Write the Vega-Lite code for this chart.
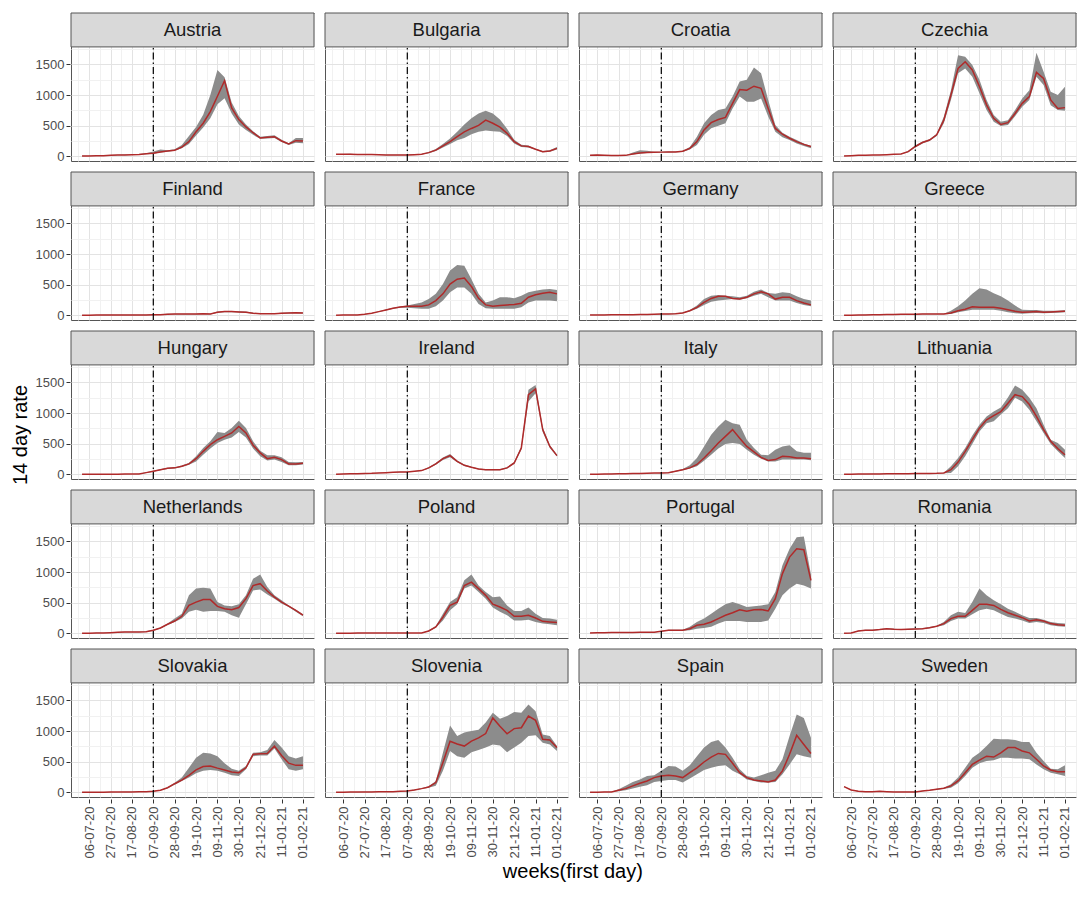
{
"$schema": "https://vega.github.io/schema/vega-lite/v6.json",
"background": "white",
"padding": {"left": 11, "top": 12, "right": 5, "bottom": 5},
"title": {"text": "weeks(first day)", "orient": "bottom", "anchor": "middle", "fontSize": 20, "fontWeight": "normal", "font": "Liberation Sans", "color": "#000000", "offset": 4, "dx": 26},
"config": {
  "font": "Liberation Sans",
  "view": {"stroke": "#555555", "strokeWidth": 1},
  "axis": {"domain": false, "labelFont": "Liberation Sans", "labelFontSize": 13, "labelColor": "#4d4d4d", "tickSize": 4, "tickWidth": 1, "titleFontWeight": "normal", "tickCount": 40},
  "header": {"labels": false, "labelExpr": "''", "labelFontSize": 0, "labelPadding": 0, "title": null}
},
"data": {"values": [
{"c":"Austria","w":"2020-06-29","m":5,"l":2,"h":8},{"c":"Austria","w":"2020-07-06","m":6,"l":3,"h":9},{"c":"Austria","w":"2020-07-13","m":8,"l":5,"h":11},{"c":"Austria","w":"2020-07-20","m":10,"l":7,"h":14},{"c":"Austria","w":"2020-07-27","m":15,"l":10,"h":20},{"c":"Austria","w":"2020-08-03","m":20,"l":15,"h":25},{"c":"Austria","w":"2020-08-10","m":22,"l":17,"h":28},{"c":"Austria","w":"2020-08-17","m":25,"l":20,"h":31},{"c":"Austria","w":"2020-08-24","m":30,"l":25,"h":36},{"c":"Austria","w":"2020-08-31","m":40,"l":33,"h":48},{"c":"Austria","w":"2020-09-07","m":50,"l":40,"h":80},{"c":"Austria","w":"2020-09-14","m":70,"l":60,"h":110},{"c":"Austria","w":"2020-09-21","m":87,"l":75,"h":100},{"c":"Austria","w":"2020-09-28","m":100,"l":90,"h":115},{"c":"Austria","w":"2020-10-05","m":150,"l":130,"h":185},{"c":"Austria","w":"2020-10-12","m":240,"l":200,"h":330},{"c":"Austria","w":"2020-10-19","m":400,"l":340,"h":480},{"c":"Austria","w":"2020-10-26","m":540,"l":470,"h":680},{"c":"Austria","w":"2020-11-02","m":730,"l":620,"h":1000},{"c":"Austria","w":"2020-11-09","m":980,"l":850,"h":1410},{"c":"Austria","w":"2020-11-16","m":1235,"l":950,"h":1290},{"c":"Austria","w":"2020-11-23","m":790,"l":700,"h":880},{"c":"Austria","w":"2020-11-30","m":600,"l":520,"h":660},{"c":"Austria","w":"2020-12-07","m":480,"l":430,"h":520},{"c":"Austria","w":"2020-12-14","m":385,"l":350,"h":410},{"c":"Austria","w":"2020-12-21","m":300,"l":285,"h":320},{"c":"Austria","w":"2020-12-28","m":310,"l":290,"h":330},{"c":"Austria","w":"2021-01-04","m":320,"l":300,"h":345},{"c":"Austria","w":"2021-01-11","m":250,"l":235,"h":270},{"c":"Austria","w":"2021-01-18","m":200,"l":185,"h":215},{"c":"Austria","w":"2021-01-25","m":255,"l":220,"h":300},{"c":"Austria","w":"2021-02-01","m":250,"l":215,"h":300},
{"c":"Bulgaria","w":"2020-06-29","m":33,"l":28,"h":38},{"c":"Bulgaria","w":"2020-07-06","m":33,"l":28,"h":38},{"c":"Bulgaria","w":"2020-07-13","m":35,"l":30,"h":40},{"c":"Bulgaria","w":"2020-07-20","m":30,"l":25,"h":35},{"c":"Bulgaria","w":"2020-07-27","m":30,"l":25,"h":35},{"c":"Bulgaria","w":"2020-08-03","m":28,"l":23,"h":33},{"c":"Bulgaria","w":"2020-08-10","m":25,"l":20,"h":30},{"c":"Bulgaria","w":"2020-08-17","m":22,"l":18,"h":27},{"c":"Bulgaria","w":"2020-08-24","m":22,"l":18,"h":27},{"c":"Bulgaria","w":"2020-08-31","m":22,"l":18,"h":27},{"c":"Bulgaria","w":"2020-09-07","m":22,"l":18,"h":27},{"c":"Bulgaria","w":"2020-09-14","m":27,"l":22,"h":32},{"c":"Bulgaria","w":"2020-09-21","m":33,"l":28,"h":38},{"c":"Bulgaria","w":"2020-09-28","m":60,"l":50,"h":70},{"c":"Bulgaria","w":"2020-10-05","m":100,"l":85,"h":120},{"c":"Bulgaria","w":"2020-10-12","m":170,"l":145,"h":200},{"c":"Bulgaria","w":"2020-10-19","m":240,"l":200,"h":290},{"c":"Bulgaria","w":"2020-10-26","m":320,"l":260,"h":400},{"c":"Bulgaria","w":"2020-11-02","m":400,"l":300,"h":520},{"c":"Bulgaria","w":"2020-11-09","m":455,"l":360,"h":620},{"c":"Bulgaria","w":"2020-11-16","m":505,"l":400,"h":700},{"c":"Bulgaria","w":"2020-11-23","m":590,"l":420,"h":745},{"c":"Bulgaria","w":"2020-11-30","m":540,"l":410,"h":700},{"c":"Bulgaria","w":"2020-12-07","m":475,"l":400,"h":600},{"c":"Bulgaria","w":"2020-12-14","m":375,"l":330,"h":450},{"c":"Bulgaria","w":"2020-12-21","m":240,"l":210,"h":270},{"c":"Bulgaria","w":"2020-12-28","m":170,"l":150,"h":190},{"c":"Bulgaria","w":"2021-01-04","m":160,"l":145,"h":175},{"c":"Bulgaria","w":"2021-01-11","m":115,"l":105,"h":125},{"c":"Bulgaria","w":"2021-01-18","m":75,"l":65,"h":85},{"c":"Bulgaria","w":"2021-01-25","m":87,"l":75,"h":100},{"c":"Bulgaria","w":"2021-02-01","m":130,"l":110,"h":150},
{"c":"Croatia","w":"2020-06-29","m":16,"l":12,"h":20},{"c":"Croatia","w":"2020-07-06","m":20,"l":16,"h":24},{"c":"Croatia","w":"2020-07-13","m":18,"l":14,"h":22},{"c":"Croatia","w":"2020-07-20","m":12,"l":9,"h":15},{"c":"Croatia","w":"2020-07-27","m":12,"l":9,"h":15},{"c":"Croatia","w":"2020-08-03","m":15,"l":12,"h":18},{"c":"Croatia","w":"2020-08-10","m":38,"l":30,"h":60},{"c":"Croatia","w":"2020-08-17","m":55,"l":45,"h":100},{"c":"Croatia","w":"2020-08-24","m":60,"l":52,"h":90},{"c":"Croatia","w":"2020-08-31","m":65,"l":58,"h":75},{"c":"Croatia","w":"2020-09-07","m":68,"l":60,"h":76},{"c":"Croatia","w":"2020-09-14","m":70,"l":62,"h":78},{"c":"Croatia","w":"2020-09-21","m":72,"l":64,"h":80},{"c":"Croatia","w":"2020-09-28","m":82,"l":72,"h":92},{"c":"Croatia","w":"2020-10-05","m":130,"l":110,"h":150},{"c":"Croatia","w":"2020-10-12","m":240,"l":185,"h":320},{"c":"Croatia","w":"2020-10-19","m":430,"l":350,"h":540},{"c":"Croatia","w":"2020-10-26","m":550,"l":460,"h":675},{"c":"Croatia","w":"2020-11-02","m":600,"l":500,"h":755},{"c":"Croatia","w":"2020-11-09","m":635,"l":540,"h":780},{"c":"Croatia","w":"2020-11-16","m":865,"l":780,"h":975},{"c":"Croatia","w":"2020-11-23","m":1090,"l":975,"h":1220},{"c":"Croatia","w":"2020-11-30","m":1080,"l":890,"h":1250},{"c":"Croatia","w":"2020-12-07","m":1145,"l":890,"h":1450},{"c":"Croatia","w":"2020-12-14","m":1110,"l":945,"h":1355},{"c":"Croatia","w":"2020-12-21","m":780,"l":650,"h":920},{"c":"Croatia","w":"2020-12-28","m":455,"l":400,"h":510},{"c":"Croatia","w":"2021-01-04","m":360,"l":310,"h":385},{"c":"Croatia","w":"2021-01-11","m":295,"l":265,"h":320},{"c":"Croatia","w":"2021-01-18","m":240,"l":210,"h":265},{"c":"Croatia","w":"2021-01-25","m":195,"l":170,"h":210},{"c":"Croatia","w":"2021-02-01","m":160,"l":130,"h":170},
{"c":"Czechia","w":"2020-06-29","m":5,"l":3,"h":7},{"c":"Czechia","w":"2020-07-06","m":10,"l":7,"h":13},{"c":"Czechia","w":"2020-07-13","m":15,"l":12,"h":18},{"c":"Czechia","w":"2020-07-20","m":18,"l":15,"h":21},{"c":"Czechia","w":"2020-07-27","m":20,"l":17,"h":23},{"c":"Czechia","w":"2020-08-03","m":22,"l":19,"h":25},{"c":"Czechia","w":"2020-08-10","m":27,"l":23,"h":31},{"c":"Czechia","w":"2020-08-17","m":33,"l":29,"h":37},{"c":"Czechia","w":"2020-08-24","m":38,"l":33,"h":43},{"c":"Czechia","w":"2020-08-31","m":75,"l":65,"h":85},{"c":"Czechia","w":"2020-09-07","m":160,"l":145,"h":175},{"c":"Czechia","w":"2020-09-14","m":225,"l":210,"h":240},{"c":"Czechia","w":"2020-09-21","m":265,"l":250,"h":280},{"c":"Czechia","w":"2020-09-28","m":350,"l":330,"h":370},{"c":"Czechia","w":"2020-10-05","m":590,"l":540,"h":645},{"c":"Czechia","w":"2020-10-12","m":1000,"l":920,"h":1080},{"c":"Czechia","w":"2020-10-19","m":1435,"l":1355,"h":1650},{"c":"Czechia","w":"2020-10-26","m":1545,"l":1435,"h":1625},{"c":"Czechia","w":"2020-11-02","m":1410,"l":1300,"h":1490},{"c":"Czechia","w":"2020-11-09","m":1140,"l":1030,"h":1250},{"c":"Czechia","w":"2020-11-16","m":840,"l":755,"h":920},{"c":"Czechia","w":"2020-11-23","m":620,"l":565,"h":675},{"c":"Czechia","w":"2020-11-30","m":520,"l":495,"h":565},{"c":"Czechia","w":"2020-12-07","m":550,"l":510,"h":590},{"c":"Czechia","w":"2020-12-14","m":700,"l":655,"h":755},{"c":"Czechia","w":"2020-12-21","m":865,"l":810,"h":945},{"c":"Czechia","w":"2020-12-28","m":975,"l":920,"h":1080},{"c":"Czechia","w":"2021-01-04","m":1370,"l":1300,"h":1690},{"c":"Czechia","w":"2021-01-11","m":1270,"l":1165,"h":1380},{"c":"Czechia","w":"2021-01-18","m":920,"l":835,"h":1055},{"c":"Czechia","w":"2021-01-25","m":780,"l":755,"h":1000},{"c":"Czechia","w":"2021-02-01","m":795,"l":745,"h":1135},
{"c":"Finland","w":"2020-06-29","m":0,"l":0,"h":3},{"c":"Finland","w":"2020-07-06","m":2,"l":0,"h":5},{"c":"Finland","w":"2020-07-13","m":3,"l":0,"h":6},{"c":"Finland","w":"2020-07-20","m":4,"l":0,"h":7},{"c":"Finland","w":"2020-07-27","m":5,"l":0,"h":8},{"c":"Finland","w":"2020-08-03","m":5,"l":0,"h":8},{"c":"Finland","w":"2020-08-10","m":5,"l":0,"h":8},{"c":"Finland","w":"2020-08-17","m":5,"l":0,"h":8},{"c":"Finland","w":"2020-08-24","m":6,"l":1,"h":10},{"c":"Finland","w":"2020-08-31","m":6,"l":1,"h":10},{"c":"Finland","w":"2020-09-07","m":7,"l":2,"h":12},{"c":"Finland","w":"2020-09-14","m":10,"l":5,"h":15},{"c":"Finland","w":"2020-09-21","m":18,"l":12,"h":24},{"c":"Finland","w":"2020-09-28","m":20,"l":14,"h":26},{"c":"Finland","w":"2020-10-05","m":20,"l":14,"h":26},{"c":"Finland","w":"2020-10-12","m":20,"l":14,"h":26},{"c":"Finland","w":"2020-10-19","m":20,"l":14,"h":26},{"c":"Finland","w":"2020-10-26","m":25,"l":18,"h":32},{"c":"Finland","w":"2020-11-02","m":20,"l":14,"h":26},{"c":"Finland","w":"2020-11-09","m":50,"l":40,"h":62},{"c":"Finland","w":"2020-11-16","m":60,"l":48,"h":72},{"c":"Finland","w":"2020-11-23","m":60,"l":48,"h":72},{"c":"Finland","w":"2020-11-30","m":55,"l":44,"h":66},{"c":"Finland","w":"2020-12-07","m":50,"l":40,"h":60},{"c":"Finland","w":"2020-12-14","m":33,"l":26,"h":40},{"c":"Finland","w":"2020-12-21","m":27,"l":21,"h":33},{"c":"Finland","w":"2020-12-28","m":27,"l":21,"h":33},{"c":"Finland","w":"2021-01-04","m":27,"l":21,"h":33},{"c":"Finland","w":"2021-01-11","m":33,"l":26,"h":40},{"c":"Finland","w":"2021-01-18","m":38,"l":30,"h":46},{"c":"Finland","w":"2021-01-25","m":43,"l":35,"h":51},{"c":"Finland","w":"2021-02-01","m":38,"l":30,"h":46},
{"c":"France","w":"2020-06-29","m":0,"l":0,"h":2},{"c":"France","w":"2020-07-06","m":5,"l":3,"h":7},{"c":"France","w":"2020-07-13","m":5,"l":3,"h":7},{"c":"France","w":"2020-07-20","m":5,"l":3,"h":7},{"c":"France","w":"2020-07-27","m":16,"l":12,"h":20},{"c":"France","w":"2020-08-03","m":33,"l":28,"h":38},{"c":"France","w":"2020-08-10","m":60,"l":52,"h":68},{"c":"France","w":"2020-08-17","m":87,"l":78,"h":96},{"c":"France","w":"2020-08-24","m":115,"l":105,"h":125},{"c":"France","w":"2020-08-31","m":135,"l":125,"h":145},{"c":"France","w":"2020-09-07","m":147,"l":125,"h":158},{"c":"France","w":"2020-09-14","m":147,"l":115,"h":185},{"c":"France","w":"2020-09-21","m":147,"l":105,"h":210},{"c":"France","w":"2020-09-28","m":170,"l":105,"h":265},{"c":"France","w":"2020-10-05","m":240,"l":147,"h":350},{"c":"France","w":"2020-10-12","m":350,"l":240,"h":510},{"c":"France","w":"2020-10-19","m":510,"l":375,"h":730},{"c":"France","w":"2020-10-26","m":590,"l":455,"h":820},{"c":"France","w":"2020-11-02","m":610,"l":455,"h":810},{"c":"France","w":"2020-11-09","m":470,"l":350,"h":590},{"c":"France","w":"2020-11-16","m":277,"l":185,"h":350},{"c":"France","w":"2020-11-23","m":170,"l":115,"h":210},{"c":"France","w":"2020-11-30","m":147,"l":105,"h":240},{"c":"France","w":"2020-12-07","m":158,"l":105,"h":295},{"c":"France","w":"2020-12-14","m":170,"l":105,"h":295},{"c":"France","w":"2020-12-21","m":175,"l":105,"h":277},{"c":"France","w":"2020-12-28","m":195,"l":130,"h":320},{"c":"France","w":"2021-01-04","m":295,"l":210,"h":375},{"c":"France","w":"2021-01-11","m":335,"l":240,"h":400},{"c":"France","w":"2021-01-18","m":360,"l":240,"h":420},{"c":"France","w":"2021-01-25","m":375,"l":240,"h":430},{"c":"France","w":"2021-02-01","m":350,"l":230,"h":415},
{"c":"Germany","w":"2020-06-29","m":5,"l":3,"h":7},{"c":"Germany","w":"2020-07-06","m":5,"l":3,"h":7},{"c":"Germany","w":"2020-07-13","m":6,"l":4,"h":8},{"c":"Germany","w":"2020-07-20","m":7,"l":5,"h":9},{"c":"Germany","w":"2020-07-27","m":8,"l":6,"h":10},{"c":"Germany","w":"2020-08-03","m":9,"l":7,"h":11},{"c":"Germany","w":"2020-08-10","m":10,"l":8,"h":12},{"c":"Germany","w":"2020-08-17","m":12,"l":10,"h":14},{"c":"Germany","w":"2020-08-24","m":14,"l":12,"h":16},{"c":"Germany","w":"2020-08-31","m":17,"l":14,"h":20},{"c":"Germany","w":"2020-09-07","m":22,"l":18,"h":26},{"c":"Germany","w":"2020-09-14","m":22,"l":18,"h":26},{"c":"Germany","w":"2020-09-21","m":27,"l":22,"h":32},{"c":"Germany","w":"2020-09-28","m":38,"l":32,"h":44},{"c":"Germany","w":"2020-10-05","m":75,"l":65,"h":85},{"c":"Germany","w":"2020-10-12","m":130,"l":105,"h":158},{"c":"Germany","w":"2020-10-19","m":210,"l":170,"h":265},{"c":"Germany","w":"2020-10-26","m":275,"l":220,"h":320},{"c":"Germany","w":"2020-11-02","m":310,"l":240,"h":330},{"c":"Germany","w":"2020-11-09","m":310,"l":255,"h":320},{"c":"Germany","w":"2020-11-16","m":275,"l":265,"h":310},{"c":"Germany","w":"2020-11-23","m":265,"l":255,"h":295},{"c":"Germany","w":"2020-11-30","m":295,"l":277,"h":320},{"c":"Germany","w":"2020-12-07","m":350,"l":320,"h":385},{"c":"Germany","w":"2020-12-14","m":385,"l":350,"h":420},{"c":"Germany","w":"2020-12-21","m":350,"l":295,"h":365},{"c":"Germany","w":"2020-12-28","m":265,"l":240,"h":350},{"c":"Germany","w":"2021-01-04","m":295,"l":240,"h":375},{"c":"Germany","w":"2021-01-11","m":295,"l":240,"h":365},{"c":"Germany","w":"2021-01-18","m":240,"l":200,"h":310},{"c":"Germany","w":"2021-01-25","m":200,"l":170,"h":265},{"c":"Germany","w":"2021-02-01","m":170,"l":147,"h":240},
{"c":"Greece","w":"2020-06-29","m":0,"l":0,"h":2},{"c":"Greece","w":"2020-07-06","m":2,"l":0,"h":4},{"c":"Greece","w":"2020-07-13","m":4,"l":2,"h":6},{"c":"Greece","w":"2020-07-20","m":5,"l":3,"h":7},{"c":"Greece","w":"2020-07-27","m":7,"l":5,"h":9},{"c":"Greece","w":"2020-08-03","m":10,"l":7,"h":13},{"c":"Greece","w":"2020-08-10","m":12,"l":9,"h":15},{"c":"Greece","w":"2020-08-17","m":14,"l":11,"h":17},{"c":"Greece","w":"2020-08-24","m":15,"l":12,"h":18},{"c":"Greece","w":"2020-08-31","m":15,"l":12,"h":18},{"c":"Greece","w":"2020-09-07","m":16,"l":13,"h":19},{"c":"Greece","w":"2020-09-14","m":22,"l":18,"h":26},{"c":"Greece","w":"2020-09-21","m":22,"l":18,"h":26},{"c":"Greece","w":"2020-09-28","m":22,"l":18,"h":26},{"c":"Greece","w":"2020-10-05","m":22,"l":18,"h":26},{"c":"Greece","w":"2020-10-12","m":38,"l":22,"h":75},{"c":"Greece","w":"2020-10-19","m":75,"l":50,"h":147},{"c":"Greece","w":"2020-10-26","m":100,"l":70,"h":240},{"c":"Greece","w":"2020-11-02","m":140,"l":90,"h":350},{"c":"Greece","w":"2020-11-09","m":130,"l":90,"h":440},{"c":"Greece","w":"2020-11-16","m":130,"l":90,"h":420},{"c":"Greece","w":"2020-11-23","m":130,"l":90,"h":360},{"c":"Greece","w":"2020-11-30","m":115,"l":75,"h":310},{"c":"Greece","w":"2020-12-07","m":90,"l":50,"h":240},{"c":"Greece","w":"2020-12-14","m":65,"l":33,"h":158},{"c":"Greece","w":"2020-12-21","m":50,"l":27,"h":90},{"c":"Greece","w":"2020-12-28","m":55,"l":33,"h":87},{"c":"Greece","w":"2021-01-04","m":60,"l":38,"h":87},{"c":"Greece","w":"2021-01-11","m":50,"l":33,"h":75},{"c":"Greece","w":"2021-01-18","m":55,"l":38,"h":75},{"c":"Greece","w":"2021-01-25","m":60,"l":43,"h":75},{"c":"Greece","w":"2021-02-01","m":65,"l":48,"h":87},
{"c":"Hungary","w":"2020-06-29","m":0,"l":0,"h":2},{"c":"Hungary","w":"2020-07-06","m":0,"l":0,"h":2},{"c":"Hungary","w":"2020-07-13","m":0,"l":0,"h":2},{"c":"Hungary","w":"2020-07-20","m":1,"l":0,"h":3},{"c":"Hungary","w":"2020-07-27","m":2,"l":1,"h":4},{"c":"Hungary","w":"2020-08-03","m":2,"l":1,"h":4},{"c":"Hungary","w":"2020-08-10","m":3,"l":2,"h":5},{"c":"Hungary","w":"2020-08-17","m":4,"l":3,"h":6},{"c":"Hungary","w":"2020-08-24","m":5,"l":4,"h":7},{"c":"Hungary","w":"2020-08-31","m":27,"l":22,"h":32},{"c":"Hungary","w":"2020-09-07","m":50,"l":43,"h":57},{"c":"Hungary","w":"2020-09-14","m":75,"l":66,"h":84},{"c":"Hungary","w":"2020-09-21","m":98,"l":88,"h":108},{"c":"Hungary","w":"2020-09-28","m":105,"l":95,"h":115},{"c":"Hungary","w":"2020-10-05","m":130,"l":118,"h":142},{"c":"Hungary","w":"2020-10-12","m":170,"l":155,"h":185},{"c":"Hungary","w":"2020-10-19","m":255,"l":210,"h":295},{"c":"Hungary","w":"2020-10-26","m":375,"l":320,"h":430},{"c":"Hungary","w":"2020-11-02","m":485,"l":420,"h":540},{"c":"Hungary","w":"2020-11-09","m":565,"l":510,"h":690},{"c":"Hungary","w":"2020-11-16","m":620,"l":565,"h":675},{"c":"Hungary","w":"2020-11-23","m":675,"l":600,"h":755},{"c":"Hungary","w":"2020-11-30","m":780,"l":690,"h":875},{"c":"Hungary","w":"2020-12-07","m":675,"l":600,"h":755},{"c":"Hungary","w":"2020-12-14","m":475,"l":420,"h":540},{"c":"Hungary","w":"2020-12-21","m":350,"l":295,"h":385},{"c":"Hungary","w":"2020-12-28","m":255,"l":225,"h":310},{"c":"Hungary","w":"2021-01-04","m":277,"l":240,"h":310},{"c":"Hungary","w":"2021-01-11","m":240,"l":200,"h":277},{"c":"Hungary","w":"2021-01-18","m":170,"l":147,"h":200},{"c":"Hungary","w":"2021-01-25","m":170,"l":147,"h":195},{"c":"Hungary","w":"2021-02-01","m":180,"l":158,"h":200},
{"c":"Ireland","w":"2020-06-29","m":0,"l":0,"h":2},{"c":"Ireland","w":"2020-07-06","m":5,"l":3,"h":7},{"c":"Ireland","w":"2020-07-13","m":8,"l":6,"h":10},{"c":"Ireland","w":"2020-07-20","m":10,"l":8,"h":12},{"c":"Ireland","w":"2020-07-27","m":13,"l":11,"h":15},{"c":"Ireland","w":"2020-08-03","m":15,"l":13,"h":17},{"c":"Ireland","w":"2020-08-10","m":22,"l":19,"h":25},{"c":"Ireland","w":"2020-08-17","m":27,"l":24,"h":30},{"c":"Ireland","w":"2020-08-24","m":33,"l":29,"h":37},{"c":"Ireland","w":"2020-08-31","m":38,"l":34,"h":42},{"c":"Ireland","w":"2020-09-07","m":38,"l":34,"h":42},{"c":"Ireland","w":"2020-09-14","m":50,"l":45,"h":55},{"c":"Ireland","w":"2020-09-21","m":60,"l":54,"h":66},{"c":"Ireland","w":"2020-09-28","m":105,"l":95,"h":115},{"c":"Ireland","w":"2020-10-05","m":170,"l":155,"h":185},{"c":"Ireland","w":"2020-10-12","m":255,"l":235,"h":275},{"c":"Ireland","w":"2020-10-19","m":305,"l":280,"h":330},{"c":"Ireland","w":"2020-10-26","m":210,"l":195,"h":225},{"c":"Ireland","w":"2020-11-02","m":147,"l":135,"h":160},{"c":"Ireland","w":"2020-11-09","m":115,"l":105,"h":125},{"c":"Ireland","w":"2020-11-16","m":87,"l":78,"h":96},{"c":"Ireland","w":"2020-11-23","m":75,"l":67,"h":83},{"c":"Ireland","w":"2020-11-30","m":75,"l":67,"h":83},{"c":"Ireland","w":"2020-12-07","m":75,"l":67,"h":83},{"c":"Ireland","w":"2020-12-14","m":105,"l":95,"h":115},{"c":"Ireland","w":"2020-12-21","m":185,"l":170,"h":200},{"c":"Ireland","w":"2020-12-28","m":430,"l":400,"h":460},{"c":"Ireland","w":"2021-01-04","m":1300,"l":1190,"h":1380},{"c":"Ireland","w":"2021-01-11","m":1395,"l":1325,"h":1460},{"c":"Ireland","w":"2021-01-18","m":730,"l":690,"h":770},{"c":"Ireland","w":"2021-01-25","m":455,"l":430,"h":480},{"c":"Ireland","w":"2021-02-01","m":305,"l":290,"h":320},
{"c":"Italy","w":"2020-06-29","m":0,"l":0,"h":2},{"c":"Italy","w":"2020-07-06","m":2,"l":0,"h":4},{"c":"Italy","w":"2020-07-13","m":4,"l":2,"h":6},{"c":"Italy","w":"2020-07-20","m":6,"l":4,"h":8},{"c":"Italy","w":"2020-07-27","m":8,"l":6,"h":10},{"c":"Italy","w":"2020-08-03","m":10,"l":8,"h":12},{"c":"Italy","w":"2020-08-10","m":12,"l":10,"h":14},{"c":"Italy","w":"2020-08-17","m":14,"l":12,"h":16},{"c":"Italy","w":"2020-08-24","m":16,"l":14,"h":18},{"c":"Italy","w":"2020-08-31","m":19,"l":16,"h":22},{"c":"Italy","w":"2020-09-07","m":22,"l":18,"h":26},{"c":"Italy","w":"2020-09-14","m":27,"l":22,"h":32},{"c":"Italy","w":"2020-09-21","m":50,"l":42,"h":58},{"c":"Italy","w":"2020-09-28","m":75,"l":65,"h":85},{"c":"Italy","w":"2020-10-05","m":105,"l":95,"h":147},{"c":"Italy","w":"2020-10-12","m":160,"l":130,"h":265},{"c":"Italy","w":"2020-10-19","m":265,"l":220,"h":455},{"c":"Italy","w":"2020-10-26","m":385,"l":320,"h":645},{"c":"Italy","w":"2020-11-02","m":510,"l":420,"h":780},{"c":"Italy","w":"2020-11-09","m":620,"l":495,"h":890},{"c":"Italy","w":"2020-11-16","m":730,"l":510,"h":835},{"c":"Italy","w":"2020-11-23","m":590,"l":495,"h":810},{"c":"Italy","w":"2020-11-30","m":455,"l":400,"h":565},{"c":"Italy","w":"2020-12-07","m":365,"l":320,"h":430},{"c":"Italy","w":"2020-12-14","m":277,"l":255,"h":320},{"c":"Italy","w":"2020-12-21","m":225,"l":210,"h":310},{"c":"Italy","w":"2020-12-28","m":240,"l":210,"h":400},{"c":"Italy","w":"2021-01-04","m":295,"l":240,"h":455},{"c":"Italy","w":"2021-01-11","m":285,"l":240,"h":475},{"c":"Italy","w":"2021-01-18","m":265,"l":240,"h":375},{"c":"Italy","w":"2021-01-25","m":265,"l":240,"h":350},{"c":"Italy","w":"2021-02-01","m":255,"l":230,"h":350},
{"c":"Lithuania","w":"2020-06-29","m":0,"l":0,"h":2},{"c":"Lithuania","w":"2020-07-06","m":2,"l":0,"h":4},{"c":"Lithuania","w":"2020-07-13","m":3,"l":1,"h":5},{"c":"Lithuania","w":"2020-07-20","m":4,"l":2,"h":6},{"c":"Lithuania","w":"2020-07-27","m":5,"l":3,"h":7},{"c":"Lithuania","w":"2020-08-03","m":6,"l":4,"h":8},{"c":"Lithuania","w":"2020-08-10","m":7,"l":5,"h":9},{"c":"Lithuania","w":"2020-08-17","m":8,"l":6,"h":10},{"c":"Lithuania","w":"2020-08-24","m":9,"l":7,"h":11},{"c":"Lithuania","w":"2020-08-31","m":10,"l":8,"h":12},{"c":"Lithuania","w":"2020-09-07","m":11,"l":9,"h":13},{"c":"Lithuania","w":"2020-09-14","m":12,"l":10,"h":14},{"c":"Lithuania","w":"2020-09-21","m":14,"l":12,"h":16},{"c":"Lithuania","w":"2020-09-28","m":16,"l":14,"h":18},{"c":"Lithuania","w":"2020-10-05","m":22,"l":18,"h":26},{"c":"Lithuania","w":"2020-10-12","m":75,"l":22,"h":130},{"c":"Lithuania","w":"2020-10-19","m":200,"l":130,"h":265},{"c":"Lithuania","w":"2020-10-26","m":375,"l":295,"h":430},{"c":"Lithuania","w":"2020-11-02","m":565,"l":495,"h":635},{"c":"Lithuania","w":"2020-11-09","m":755,"l":700,"h":810},{"c":"Lithuania","w":"2020-11-16","m":890,"l":835,"h":945},{"c":"Lithuania","w":"2020-11-23","m":960,"l":865,"h":1025},{"c":"Lithuania","w":"2020-11-30","m":1025,"l":975,"h":1090},{"c":"Lithuania","w":"2020-12-07","m":1160,"l":1080,"h":1255},{"c":"Lithuania","w":"2020-12-14","m":1300,"l":1250,"h":1450},{"c":"Lithuania","w":"2020-12-21","m":1270,"l":1190,"h":1380},{"c":"Lithuania","w":"2020-12-28","m":1140,"l":1055,"h":1250},{"c":"Lithuania","w":"2021-01-04","m":945,"l":865,"h":1080},{"c":"Lithuania","w":"2021-01-11","m":730,"l":675,"h":810},{"c":"Lithuania","w":"2021-01-18","m":540,"l":495,"h":565},{"c":"Lithuania","w":"2021-01-25","m":420,"l":375,"h":510},{"c":"Lithuania","w":"2021-02-01","m":320,"l":265,"h":400},
{"c":"Netherlands","w":"2020-06-29","m":0,"l":0,"h":2},{"c":"Netherlands","w":"2020-07-06","m":0,"l":0,"h":2},{"c":"Netherlands","w":"2020-07-13","m":5,"l":3,"h":7},{"c":"Netherlands","w":"2020-07-20","m":5,"l":3,"h":7},{"c":"Netherlands","w":"2020-07-27","m":10,"l":8,"h":12},{"c":"Netherlands","w":"2020-08-03","m":16,"l":13,"h":19},{"c":"Netherlands","w":"2020-08-10","m":22,"l":18,"h":26},{"c":"Netherlands","w":"2020-08-17","m":22,"l":18,"h":26},{"c":"Netherlands","w":"2020-08-24","m":22,"l":18,"h":26},{"c":"Netherlands","w":"2020-08-31","m":27,"l":22,"h":32},{"c":"Netherlands","w":"2020-09-07","m":50,"l":43,"h":57},{"c":"Netherlands","w":"2020-09-14","m":87,"l":78,"h":96},{"c":"Netherlands","w":"2020-09-21","m":147,"l":135,"h":160},{"c":"Netherlands","w":"2020-09-28","m":200,"l":185,"h":240},{"c":"Netherlands","w":"2020-10-05","m":277,"l":240,"h":320},{"c":"Netherlands","w":"2020-10-12","m":455,"l":350,"h":620},{"c":"Netherlands","w":"2020-10-19","m":510,"l":385,"h":730},{"c":"Netherlands","w":"2020-10-26","m":550,"l":350,"h":745},{"c":"Netherlands","w":"2020-11-02","m":550,"l":365,"h":730},{"c":"Netherlands","w":"2020-11-09","m":440,"l":365,"h":510},{"c":"Netherlands","w":"2020-11-16","m":400,"l":350,"h":455},{"c":"Netherlands","w":"2020-11-23","m":385,"l":295,"h":440},{"c":"Netherlands","w":"2020-11-30","m":420,"l":255,"h":475},{"c":"Netherlands","w":"2020-12-07","m":565,"l":475,"h":620},{"c":"Netherlands","w":"2020-12-14","m":780,"l":700,"h":890},{"c":"Netherlands","w":"2020-12-21","m":810,"l":715,"h":960},{"c":"Netherlands","w":"2020-12-28","m":690,"l":635,"h":755},{"c":"Netherlands","w":"2021-01-04","m":590,"l":565,"h":620},{"c":"Netherlands","w":"2021-01-11","m":510,"l":485,"h":540},{"c":"Netherlands","w":"2021-01-18","m":445,"l":430,"h":455},{"c":"Netherlands","w":"2021-01-25","m":375,"l":350,"h":385},{"c":"Netherlands","w":"2021-02-01","m":295,"l":277,"h":310},
{"c":"Poland","w":"2020-06-29","m":0,"l":0,"h":2},{"c":"Poland","w":"2020-07-06","m":1,"l":0,"h":2},{"c":"Poland","w":"2020-07-13","m":2,"l":1,"h":3},{"c":"Poland","w":"2020-07-20","m":3,"l":2,"h":4},{"c":"Poland","w":"2020-07-27","m":4,"l":3,"h":5},{"c":"Poland","w":"2020-08-03","m":4,"l":3,"h":5},{"c":"Poland","w":"2020-08-10","m":5,"l":4,"h":6},{"c":"Poland","w":"2020-08-17","m":5,"l":4,"h":6},{"c":"Poland","w":"2020-08-24","m":5,"l":4,"h":6},{"c":"Poland","w":"2020-08-31","m":5,"l":4,"h":6},{"c":"Poland","w":"2020-09-07","m":5,"l":4,"h":6},{"c":"Poland","w":"2020-09-14","m":5,"l":4,"h":6},{"c":"Poland","w":"2020-09-21","m":5,"l":4,"h":6},{"c":"Poland","w":"2020-09-28","m":38,"l":30,"h":46},{"c":"Poland","w":"2020-10-05","m":105,"l":90,"h":120},{"c":"Poland","w":"2020-10-12","m":265,"l":210,"h":320},{"c":"Poland","w":"2020-10-19","m":455,"l":375,"h":510},{"c":"Poland","w":"2020-10-26","m":510,"l":475,"h":590},{"c":"Poland","w":"2020-11-02","m":780,"l":730,"h":865},{"c":"Poland","w":"2020-11-09","m":835,"l":780,"h":960},{"c":"Poland","w":"2020-11-16","m":730,"l":675,"h":780},{"c":"Poland","w":"2020-11-23","m":620,"l":565,"h":675},{"c":"Poland","w":"2020-11-30","m":475,"l":420,"h":590},{"c":"Poland","w":"2020-12-07","m":430,"l":350,"h":600},{"c":"Poland","w":"2020-12-14","m":375,"l":295,"h":455},{"c":"Poland","w":"2020-12-21","m":277,"l":210,"h":365},{"c":"Poland","w":"2020-12-28","m":277,"l":210,"h":365},{"c":"Poland","w":"2021-01-04","m":295,"l":220,"h":420},{"c":"Poland","w":"2021-01-11","m":250,"l":185,"h":320},{"c":"Poland","w":"2021-01-18","m":195,"l":160,"h":250},{"c":"Poland","w":"2021-01-25","m":185,"l":147,"h":240},{"c":"Poland","w":"2021-02-01","m":175,"l":130,"h":220},
{"c":"Portugal","w":"2020-06-29","m":5,"l":3,"h":7},{"c":"Portugal","w":"2020-07-06","m":8,"l":6,"h":10},{"c":"Portugal","w":"2020-07-13","m":10,"l":8,"h":12},{"c":"Portugal","w":"2020-07-20","m":12,"l":10,"h":14},{"c":"Portugal","w":"2020-07-27","m":13,"l":11,"h":15},{"c":"Portugal","w":"2020-08-03","m":14,"l":12,"h":16},{"c":"Portugal","w":"2020-08-10","m":14,"l":12,"h":16},{"c":"Portugal","w":"2020-08-17","m":15,"l":13,"h":17},{"c":"Portugal","w":"2020-08-24","m":15,"l":13,"h":17},{"c":"Portugal","w":"2020-08-31","m":16,"l":14,"h":18},{"c":"Portugal","w":"2020-09-07","m":33,"l":28,"h":38},{"c":"Portugal","w":"2020-09-14","m":50,"l":43,"h":57},{"c":"Portugal","w":"2020-09-21","m":50,"l":43,"h":57},{"c":"Portugal","w":"2020-09-28","m":50,"l":43,"h":57},{"c":"Portugal","w":"2020-10-05","m":75,"l":50,"h":105},{"c":"Portugal","w":"2020-10-12","m":130,"l":75,"h":185},{"c":"Portugal","w":"2020-10-19","m":147,"l":87,"h":240},{"c":"Portugal","w":"2020-10-26","m":185,"l":105,"h":320},{"c":"Portugal","w":"2020-11-02","m":240,"l":158,"h":400},{"c":"Portugal","w":"2020-11-09","m":295,"l":200,"h":475},{"c":"Portugal","w":"2020-11-16","m":335,"l":200,"h":510},{"c":"Portugal","w":"2020-11-23","m":385,"l":200,"h":475},{"c":"Portugal","w":"2020-11-30","m":360,"l":185,"h":430},{"c":"Portugal","w":"2020-12-07","m":385,"l":185,"h":440},{"c":"Portugal","w":"2020-12-14","m":390,"l":185,"h":455},{"c":"Portugal","w":"2020-12-21","m":365,"l":210,"h":475},{"c":"Portugal","w":"2020-12-28","m":565,"l":400,"h":675},{"c":"Portugal","w":"2021-01-04","m":975,"l":620,"h":1110},{"c":"Portugal","w":"2021-01-11","m":1245,"l":730,"h":1380},{"c":"Portugal","w":"2021-01-18","m":1380,"l":810,"h":1570},{"c":"Portugal","w":"2021-01-25","m":1365,"l":780,"h":1580},{"c":"Portugal","w":"2021-02-01","m":865,"l":730,"h":960},
{"c":"Romania","w":"2020-06-29","m":0,"l":0,"h":2},{"c":"Romania","w":"2020-07-06","m":5,"l":3,"h":8},{"c":"Romania","w":"2020-07-13","m":38,"l":32,"h":44},{"c":"Romania","w":"2020-07-20","m":50,"l":43,"h":57},{"c":"Romania","w":"2020-07-27","m":50,"l":43,"h":57},{"c":"Romania","w":"2020-08-03","m":60,"l":52,"h":68},{"c":"Romania","w":"2020-08-10","m":75,"l":66,"h":84},{"c":"Romania","w":"2020-08-17","m":65,"l":57,"h":73},{"c":"Romania","w":"2020-08-24","m":60,"l":52,"h":68},{"c":"Romania","w":"2020-08-31","m":65,"l":57,"h":73},{"c":"Romania","w":"2020-09-07","m":70,"l":62,"h":78},{"c":"Romania","w":"2020-09-14","m":75,"l":66,"h":84},{"c":"Romania","w":"2020-09-21","m":92,"l":82,"h":102},{"c":"Romania","w":"2020-09-28","m":115,"l":105,"h":125},{"c":"Romania","w":"2020-10-05","m":158,"l":130,"h":185},{"c":"Romania","w":"2020-10-12","m":240,"l":200,"h":295},{"c":"Romania","w":"2020-10-19","m":277,"l":240,"h":350},{"c":"Romania","w":"2020-10-26","m":277,"l":240,"h":330},{"c":"Romania","w":"2020-11-02","m":375,"l":310,"h":510},{"c":"Romania","w":"2020-11-09","m":475,"l":375,"h":730},{"c":"Romania","w":"2020-11-16","m":475,"l":400,"h":620},{"c":"Romania","w":"2020-11-23","m":455,"l":375,"h":540},{"c":"Romania","w":"2020-11-30","m":390,"l":320,"h":475},{"c":"Romania","w":"2020-12-07","m":335,"l":265,"h":400},{"c":"Romania","w":"2020-12-14","m":295,"l":240,"h":350},{"c":"Romania","w":"2020-12-21","m":255,"l":210,"h":295},{"c":"Romania","w":"2020-12-28","m":200,"l":170,"h":250},{"c":"Romania","w":"2021-01-04","m":220,"l":185,"h":250},{"c":"Romania","w":"2021-01-11","m":200,"l":170,"h":220},{"c":"Romania","w":"2021-01-18","m":158,"l":130,"h":185},{"c":"Romania","w":"2021-01-25","m":140,"l":115,"h":170},{"c":"Romania","w":"2021-02-01","m":130,"l":105,"h":158},
{"c":"Slovakia","w":"2020-06-29","m":0,"l":0,"h":2},{"c":"Slovakia","w":"2020-07-06","m":0,"l":0,"h":2},{"c":"Slovakia","w":"2020-07-13","m":1,"l":0,"h":3},{"c":"Slovakia","w":"2020-07-20","m":2,"l":1,"h":4},{"c":"Slovakia","w":"2020-07-27","m":3,"l":2,"h":5},{"c":"Slovakia","w":"2020-08-03","m":4,"l":3,"h":6},{"c":"Slovakia","w":"2020-08-10","m":5,"l":4,"h":7},{"c":"Slovakia","w":"2020-08-17","m":6,"l":5,"h":8},{"c":"Slovakia","w":"2020-08-24","m":8,"l":6,"h":10},{"c":"Slovakia","w":"2020-08-31","m":10,"l":8,"h":12},{"c":"Slovakia","w":"2020-09-07","m":16,"l":13,"h":19},{"c":"Slovakia","w":"2020-09-14","m":33,"l":28,"h":38},{"c":"Slovakia","w":"2020-09-21","m":75,"l":66,"h":84},{"c":"Slovakia","w":"2020-09-28","m":140,"l":125,"h":155},{"c":"Slovakia","w":"2020-10-05","m":200,"l":185,"h":240},{"c":"Slovakia","w":"2020-10-12","m":277,"l":240,"h":400},{"c":"Slovakia","w":"2020-10-19","m":365,"l":310,"h":565},{"c":"Slovakia","w":"2020-10-26","m":420,"l":350,"h":645},{"c":"Slovakia","w":"2020-11-02","m":430,"l":365,"h":635},{"c":"Slovakia","w":"2020-11-09","m":395,"l":350,"h":590},{"c":"Slovakia","w":"2020-11-16","m":365,"l":320,"h":475},{"c":"Slovakia","w":"2020-11-23","m":330,"l":277,"h":385},{"c":"Slovakia","w":"2020-11-30","m":320,"l":265,"h":350},{"c":"Slovakia","w":"2020-12-07","m":400,"l":375,"h":430},{"c":"Slovakia","w":"2020-12-14","m":620,"l":590,"h":645},{"c":"Slovakia","w":"2020-12-21","m":630,"l":600,"h":655},{"c":"Slovakia","w":"2020-12-28","m":635,"l":600,"h":690},{"c":"Slovakia","w":"2021-01-04","m":755,"l":715,"h":855},{"c":"Slovakia","w":"2021-01-11","m":600,"l":540,"h":730},{"c":"Slovakia","w":"2021-01-18","m":475,"l":375,"h":590},{"c":"Slovakia","w":"2021-01-25","m":440,"l":350,"h":550},{"c":"Slovakia","w":"2021-02-01","m":440,"l":375,"h":590},
{"c":"Slovenia","w":"2020-06-29","m":0,"l":0,"h":2},{"c":"Slovenia","w":"2020-07-06","m":2,"l":0,"h":4},{"c":"Slovenia","w":"2020-07-13","m":3,"l":1,"h":5},{"c":"Slovenia","w":"2020-07-20","m":4,"l":2,"h":6},{"c":"Slovenia","w":"2020-07-27","m":5,"l":3,"h":7},{"c":"Slovenia","w":"2020-08-03","m":6,"l":4,"h":8},{"c":"Slovenia","w":"2020-08-10","m":7,"l":5,"h":9},{"c":"Slovenia","w":"2020-08-17","m":8,"l":6,"h":10},{"c":"Slovenia","w":"2020-08-24","m":10,"l":8,"h":12},{"c":"Slovenia","w":"2020-08-31","m":16,"l":13,"h":19},{"c":"Slovenia","w":"2020-09-07","m":22,"l":18,"h":26},{"c":"Slovenia","w":"2020-09-14","m":38,"l":32,"h":44},{"c":"Slovenia","w":"2020-09-21","m":60,"l":52,"h":68},{"c":"Slovenia","w":"2020-09-28","m":87,"l":75,"h":99},{"c":"Slovenia","w":"2020-10-05","m":158,"l":105,"h":185},{"c":"Slovenia","w":"2020-10-12","m":485,"l":350,"h":645},{"c":"Slovenia","w":"2020-10-19","m":835,"l":675,"h":1090},{"c":"Slovenia","w":"2020-10-26","m":790,"l":590,"h":920},{"c":"Slovenia","w":"2020-11-02","m":755,"l":565,"h":975},{"c":"Slovenia","w":"2020-11-09","m":835,"l":655,"h":1000},{"c":"Slovenia","w":"2020-11-16","m":890,"l":690,"h":1020},{"c":"Slovenia","w":"2020-11-23","m":960,"l":730,"h":1140},{"c":"Slovenia","w":"2020-11-30","m":1215,"l":780,"h":1300},{"c":"Slovenia","w":"2020-12-07","m":1080,"l":765,"h":1200},{"c":"Slovenia","w":"2020-12-14","m":955,"l":655,"h":1245},{"c":"Slovenia","w":"2020-12-21","m":1040,"l":730,"h":1310},{"c":"Slovenia","w":"2020-12-28","m":1055,"l":810,"h":1300},{"c":"Slovenia","w":"2021-01-04","m":1245,"l":920,"h":1435},{"c":"Slovenia","w":"2021-01-11","m":1175,"l":930,"h":1325},{"c":"Slovenia","w":"2021-01-18","m":865,"l":810,"h":945},{"c":"Slovenia","w":"2021-01-25","m":855,"l":780,"h":920},{"c":"Slovenia","w":"2021-02-01","m":730,"l":675,"h":755},
{"c":"Spain","w":"2020-06-29","m":0,"l":0,"h":2},{"c":"Spain","w":"2020-07-06","m":0,"l":0,"h":2},{"c":"Spain","w":"2020-07-13","m":5,"l":3,"h":7},{"c":"Spain","w":"2020-07-20","m":5,"l":3,"h":7},{"c":"Spain","w":"2020-07-27","m":33,"l":16,"h":50},{"c":"Spain","w":"2020-08-03","m":60,"l":33,"h":105},{"c":"Spain","w":"2020-08-10","m":105,"l":60,"h":170},{"c":"Spain","w":"2020-08-17","m":147,"l":92,"h":210},{"c":"Spain","w":"2020-08-24","m":185,"l":115,"h":265},{"c":"Spain","w":"2020-08-31","m":240,"l":170,"h":277},{"c":"Spain","w":"2020-09-07","m":265,"l":185,"h":350},{"c":"Spain","w":"2020-09-14","m":277,"l":200,"h":430},{"c":"Spain","w":"2020-09-21","m":265,"l":200,"h":420},{"c":"Spain","w":"2020-09-28","m":240,"l":158,"h":350},{"c":"Spain","w":"2020-10-05","m":320,"l":225,"h":440},{"c":"Spain","w":"2020-10-12","m":400,"l":295,"h":590},{"c":"Spain","w":"2020-10-19","m":495,"l":365,"h":730},{"c":"Spain","w":"2020-10-26","m":575,"l":400,"h":820},{"c":"Spain","w":"2020-11-02","m":635,"l":430,"h":855},{"c":"Spain","w":"2020-11-09","m":620,"l":440,"h":730},{"c":"Spain","w":"2020-11-16","m":475,"l":350,"h":565},{"c":"Spain","w":"2020-11-23","m":320,"l":295,"h":375},{"c":"Spain","w":"2020-11-30","m":240,"l":210,"h":265},{"c":"Spain","w":"2020-12-07","m":200,"l":185,"h":240},{"c":"Spain","w":"2020-12-14","m":185,"l":158,"h":277},{"c":"Spain","w":"2020-12-21","m":170,"l":158,"h":320},{"c":"Spain","w":"2020-12-28","m":200,"l":170,"h":350},{"c":"Spain","w":"2021-01-04","m":350,"l":295,"h":540},{"c":"Spain","w":"2021-01-11","m":620,"l":455,"h":920},{"c":"Spain","w":"2021-01-18","m":930,"l":620,"h":1270},{"c":"Spain","w":"2021-01-25","m":780,"l":590,"h":1215},{"c":"Spain","w":"2021-02-01","m":635,"l":565,"h":890},
{"c":"Sweden","w":"2020-06-29","m":92,"l":85,"h":99},{"c":"Sweden","w":"2020-07-06","m":38,"l":33,"h":43},{"c":"Sweden","w":"2020-07-13","m":16,"l":12,"h":20},{"c":"Sweden","w":"2020-07-20","m":10,"l":7,"h":13},{"c":"Sweden","w":"2020-07-27","m":10,"l":7,"h":13},{"c":"Sweden","w":"2020-08-03","m":16,"l":12,"h":20},{"c":"Sweden","w":"2020-08-10","m":10,"l":7,"h":13},{"c":"Sweden","w":"2020-08-17","m":5,"l":3,"h":7},{"c":"Sweden","w":"2020-08-24","m":5,"l":3,"h":7},{"c":"Sweden","w":"2020-08-31","m":5,"l":3,"h":7},{"c":"Sweden","w":"2020-09-07","m":5,"l":3,"h":7},{"c":"Sweden","w":"2020-09-14","m":22,"l":18,"h":26},{"c":"Sweden","w":"2020-09-21","m":33,"l":28,"h":38},{"c":"Sweden","w":"2020-09-28","m":50,"l":43,"h":57},{"c":"Sweden","w":"2020-10-05","m":65,"l":56,"h":74},{"c":"Sweden","w":"2020-10-12","m":105,"l":75,"h":130},{"c":"Sweden","w":"2020-10-19","m":185,"l":147,"h":240},{"c":"Sweden","w":"2020-10-26","m":320,"l":265,"h":400},{"c":"Sweden","w":"2020-11-02","m":455,"l":400,"h":565},{"c":"Sweden","w":"2020-11-09","m":525,"l":475,"h":645},{"c":"Sweden","w":"2020-11-16","m":590,"l":510,"h":755},{"c":"Sweden","w":"2020-11-23","m":575,"l":525,"h":875},{"c":"Sweden","w":"2020-11-30","m":645,"l":565,"h":865},{"c":"Sweden","w":"2020-12-07","m":730,"l":565,"h":865},{"c":"Sweden","w":"2020-12-14","m":730,"l":550,"h":855},{"c":"Sweden","w":"2020-12-21","m":675,"l":550,"h":820},{"c":"Sweden","w":"2020-12-28","m":645,"l":540,"h":820},{"c":"Sweden","w":"2021-01-04","m":540,"l":455,"h":645},{"c":"Sweden","w":"2021-01-11","m":430,"l":375,"h":510},{"c":"Sweden","w":"2021-01-18","m":365,"l":320,"h":385},{"c":"Sweden","w":"2021-01-25","m":335,"l":295,"h":375},{"c":"Sweden","w":"2021-02-01","m":335,"l":265,"h":440}
]},
"vconcat": [{
  "title": {"text": "14 day rate", "orient": "left", "anchor": "middle", "fontSize": 20, "fontWeight": "normal", "font": "Liberation Sans", "color": "#000000", "offset": 4},
  "spacing": 7,
  "vconcat": [
  {
    "transform": [{"filter": {"field": "c", "oneOf": ["Austria", "Bulgaria", "Croatia", "Czechia"]}}],
    "facet": {"column": {"field": "c", "type": "nominal", "title": null, "header": {"labels": false, "title": null}}},
    "spacing": 9,
    "spec": {"width": 243, "height": 148, "layer": [
      {"mark": {"type": "area", "color": "#8c8c8c"}, "encoding": {
        "x": {"field": "w", "type": "temporal", "scale": {"type": "utc", "domain": [1592451360000, 1613075040000], "nice": false},
          "axis": {"title": null, "labels": false, "ticks": false, "tickCount": 40, "values": [1593086400000,1593993600000,1594900800000,1595808000000,1596715200000,1597622400000,1598529600000,1599436800000,1600344000000,1601251200000,1602158400000,1603065600000,1603972800000,1604880000000,1605787200000,1606694400000,1607601600000,1608508800000,1609416000000,1610323200000,1611230400000,1612137600000,1613044800000],
            "gridColor": {"condition": {"test": "(datum.value - 1593993600000) % 1814400000 === 0", "value": "#e3e3e3"}, "value": "#f1f1f1"}}},
        "y": {"field": "l", "type": "quantitative", "scale": {"domain": [-77, 2341], "nice": false, "zero": false},
          "axis": {"title": null, "format": "d", "labelPadding": 2, "labelOverlap": false, "tickCount": 40, "values": [0,250,500,750,1000,1250,1500,1750],
            "labelExpr": "datum.value % 500 === 0 && datum.value <= 1500 ? datum.label : ''",
            "tickColor": {"condition": {"test": "datum.value % 500 === 0 && datum.value <= 1500", "value": "#333333"}, "value": "rgba(0,0,0,0)"},
            "gridColor": {"condition": {"test": "datum.value % 500 === 0", "value": "#e3e3e3"}, "value": "#f1f1f1"}}},
        "y2": {"field": "h"}}},
      {"mark": {"type": "line", "color": "#b02a2a", "strokeWidth": 1.5}, "encoding": {"x": {"field": "w", "type": "temporal"}, "y": {"field": "m", "type": "quantitative"}}},
      {"transform": [{"aggregate": [{"op": "count", "as": "n"}], "groupby": ["c"]}], "mark": {"type": "rect", "fill": "#d9d9d9", "stroke": "#555555", "strokeWidth": 1},
        "encoding": {"x": {"datum": 1592451360000, "type": "temporal"}, "x2": {"datum": 1613075040000}, "y": {"datum": 1787, "type": "quantitative"}, "y2": {"datum": 2341}}},
      {"transform": [{"aggregate": [{"op": "count", "as": "n"}], "groupby": ["c"]}], "mark": {"type": "text", "fontSize": 18.5, "color": "#1a1a1a", "font": "Liberation Sans", "baseline": "middle", "align": "center"},
        "encoding": {"x": {"datum": 1602763200000, "type": "temporal"}, "y": {"datum": 2064, "type": "quantitative"}, "text": {"field": "c"}}},
      {"transform": [{"aggregate": [{"op": "count", "as": "n"}], "groupby": ["c"]}], "mark": {"type": "rule", "color": "#000000", "strokeWidth": 1.2, "strokeDash": [7, 3, 1.5, 3]},
        "encoding": {"x": {"datum": 1599436800000, "type": "temporal"}, "y": {"datum": -77, "type": "quantitative"}, "y2": {"datum": 1787}}}
    ]}
  },
  {
    "transform": [{"filter": {"field": "c", "oneOf": ["Finland", "France", "Germany", "Greece"]}}],
    "facet": {"column": {"field": "c", "type": "nominal", "title": null, "header": {"labels": false, "title": null}}},
    "spacing": 9,
    "spec": {"width": 243, "height": 148, "layer": [
      {"mark": {"type": "area", "color": "#8c8c8c"}, "encoding": {
        "x": {"field": "w", "type": "temporal", "scale": {"type": "utc", "domain": [1592451360000, 1613075040000], "nice": false},
          "axis": {"title": null, "labels": false, "ticks": false, "tickCount": 40, "values": [1593086400000,1593993600000,1594900800000,1595808000000,1596715200000,1597622400000,1598529600000,1599436800000,1600344000000,1601251200000,1602158400000,1603065600000,1603972800000,1604880000000,1605787200000,1606694400000,1607601600000,1608508800000,1609416000000,1610323200000,1611230400000,1612137600000,1613044800000],
            "gridColor": {"condition": {"test": "(datum.value - 1593993600000) % 1814400000 === 0", "value": "#e3e3e3"}, "value": "#f1f1f1"}}},
        "y": {"field": "l", "type": "quantitative", "scale": {"domain": [-77, 2341], "nice": false, "zero": false},
          "axis": {"title": null, "format": "d", "labelPadding": 2, "labelOverlap": false, "tickCount": 40, "values": [0,250,500,750,1000,1250,1500,1750],
            "labelExpr": "datum.value % 500 === 0 && datum.value <= 1500 ? datum.label : ''",
            "tickColor": {"condition": {"test": "datum.value % 500 === 0 && datum.value <= 1500", "value": "#333333"}, "value": "rgba(0,0,0,0)"},
            "gridColor": {"condition": {"test": "datum.value % 500 === 0", "value": "#e3e3e3"}, "value": "#f1f1f1"}}},
        "y2": {"field": "h"}}},
      {"mark": {"type": "line", "color": "#b02a2a", "strokeWidth": 1.5}, "encoding": {"x": {"field": "w", "type": "temporal"}, "y": {"field": "m", "type": "quantitative"}}},
      {"transform": [{"aggregate": [{"op": "count", "as": "n"}], "groupby": ["c"]}], "mark": {"type": "rect", "fill": "#d9d9d9", "stroke": "#555555", "strokeWidth": 1},
        "encoding": {"x": {"datum": 1592451360000, "type": "temporal"}, "x2": {"datum": 1613075040000}, "y": {"datum": 1787, "type": "quantitative"}, "y2": {"datum": 2341}}},
      {"transform": [{"aggregate": [{"op": "count", "as": "n"}], "groupby": ["c"]}], "mark": {"type": "text", "fontSize": 18.5, "color": "#1a1a1a", "font": "Liberation Sans", "baseline": "middle", "align": "center"},
        "encoding": {"x": {"datum": 1602763200000, "type": "temporal"}, "y": {"datum": 2064, "type": "quantitative"}, "text": {"field": "c"}}},
      {"transform": [{"aggregate": [{"op": "count", "as": "n"}], "groupby": ["c"]}], "mark": {"type": "rule", "color": "#000000", "strokeWidth": 1.2, "strokeDash": [7, 3, 1.5, 3]},
        "encoding": {"x": {"datum": 1599436800000, "type": "temporal"}, "y": {"datum": -77, "type": "quantitative"}, "y2": {"datum": 1787}}}
    ]}
  },
  {
    "transform": [{"filter": {"field": "c", "oneOf": ["Hungary", "Ireland", "Italy", "Lithuania"]}}],
    "facet": {"column": {"field": "c", "type": "nominal", "title": null, "header": {"labels": false, "title": null}}},
    "spacing": 9,
    "spec": {"width": 243, "height": 148, "layer": [
      {"mark": {"type": "area", "color": "#8c8c8c"}, "encoding": {
        "x": {"field": "w", "type": "temporal", "scale": {"type": "utc", "domain": [1592451360000, 1613075040000], "nice": false},
          "axis": {"title": null, "labels": false, "ticks": false, "tickCount": 40, "values": [1593086400000,1593993600000,1594900800000,1595808000000,1596715200000,1597622400000,1598529600000,1599436800000,1600344000000,1601251200000,1602158400000,1603065600000,1603972800000,1604880000000,1605787200000,1606694400000,1607601600000,1608508800000,1609416000000,1610323200000,1611230400000,1612137600000,1613044800000],
            "gridColor": {"condition": {"test": "(datum.value - 1593993600000) % 1814400000 === 0", "value": "#e3e3e3"}, "value": "#f1f1f1"}}},
        "y": {"field": "l", "type": "quantitative", "scale": {"domain": [-77, 2341], "nice": false, "zero": false},
          "axis": {"title": null, "format": "d", "labelPadding": 2, "labelOverlap": false, "tickCount": 40, "values": [0,250,500,750,1000,1250,1500,1750],
            "labelExpr": "datum.value % 500 === 0 && datum.value <= 1500 ? datum.label : ''",
            "tickColor": {"condition": {"test": "datum.value % 500 === 0 && datum.value <= 1500", "value": "#333333"}, "value": "rgba(0,0,0,0)"},
            "gridColor": {"condition": {"test": "datum.value % 500 === 0", "value": "#e3e3e3"}, "value": "#f1f1f1"}}},
        "y2": {"field": "h"}}},
      {"mark": {"type": "line", "color": "#b02a2a", "strokeWidth": 1.5}, "encoding": {"x": {"field": "w", "type": "temporal"}, "y": {"field": "m", "type": "quantitative"}}},
      {"transform": [{"aggregate": [{"op": "count", "as": "n"}], "groupby": ["c"]}], "mark": {"type": "rect", "fill": "#d9d9d9", "stroke": "#555555", "strokeWidth": 1},
        "encoding": {"x": {"datum": 1592451360000, "type": "temporal"}, "x2": {"datum": 1613075040000}, "y": {"datum": 1787, "type": "quantitative"}, "y2": {"datum": 2341}}},
      {"transform": [{"aggregate": [{"op": "count", "as": "n"}], "groupby": ["c"]}], "mark": {"type": "text", "fontSize": 18.5, "color": "#1a1a1a", "font": "Liberation Sans", "baseline": "middle", "align": "center"},
        "encoding": {"x": {"datum": 1602763200000, "type": "temporal"}, "y": {"datum": 2064, "type": "quantitative"}, "text": {"field": "c"}}},
      {"transform": [{"aggregate": [{"op": "count", "as": "n"}], "groupby": ["c"]}], "mark": {"type": "rule", "color": "#000000", "strokeWidth": 1.2, "strokeDash": [7, 3, 1.5, 3]},
        "encoding": {"x": {"datum": 1599436800000, "type": "temporal"}, "y": {"datum": -77, "type": "quantitative"}, "y2": {"datum": 1787}}}
    ]}
  },
  {
    "transform": [{"filter": {"field": "c", "oneOf": ["Netherlands", "Poland", "Portugal", "Romania"]}}],
    "facet": {"column": {"field": "c", "type": "nominal", "title": null, "header": {"labels": false, "title": null}}},
    "spacing": 9,
    "spec": {"width": 243, "height": 148, "layer": [
      {"mark": {"type": "area", "color": "#8c8c8c"}, "encoding": {
        "x": {"field": "w", "type": "temporal", "scale": {"type": "utc", "domain": [1592451360000, 1613075040000], "nice": false},
          "axis": {"title": null, "labels": false, "ticks": false, "tickCount": 40, "values": [1593086400000,1593993600000,1594900800000,1595808000000,1596715200000,1597622400000,1598529600000,1599436800000,1600344000000,1601251200000,1602158400000,1603065600000,1603972800000,1604880000000,1605787200000,1606694400000,1607601600000,1608508800000,1609416000000,1610323200000,1611230400000,1612137600000,1613044800000],
            "gridColor": {"condition": {"test": "(datum.value - 1593993600000) % 1814400000 === 0", "value": "#e3e3e3"}, "value": "#f1f1f1"}}},
        "y": {"field": "l", "type": "quantitative", "scale": {"domain": [-77, 2341], "nice": false, "zero": false},
          "axis": {"title": null, "format": "d", "labelPadding": 2, "labelOverlap": false, "tickCount": 40, "values": [0,250,500,750,1000,1250,1500,1750],
            "labelExpr": "datum.value % 500 === 0 && datum.value <= 1500 ? datum.label : ''",
            "tickColor": {"condition": {"test": "datum.value % 500 === 0 && datum.value <= 1500", "value": "#333333"}, "value": "rgba(0,0,0,0)"},
            "gridColor": {"condition": {"test": "datum.value % 500 === 0", "value": "#e3e3e3"}, "value": "#f1f1f1"}}},
        "y2": {"field": "h"}}},
      {"mark": {"type": "line", "color": "#b02a2a", "strokeWidth": 1.5}, "encoding": {"x": {"field": "w", "type": "temporal"}, "y": {"field": "m", "type": "quantitative"}}},
      {"transform": [{"aggregate": [{"op": "count", "as": "n"}], "groupby": ["c"]}], "mark": {"type": "rect", "fill": "#d9d9d9", "stroke": "#555555", "strokeWidth": 1},
        "encoding": {"x": {"datum": 1592451360000, "type": "temporal"}, "x2": {"datum": 1613075040000}, "y": {"datum": 1787, "type": "quantitative"}, "y2": {"datum": 2341}}},
      {"transform": [{"aggregate": [{"op": "count", "as": "n"}], "groupby": ["c"]}], "mark": {"type": "text", "fontSize": 18.5, "color": "#1a1a1a", "font": "Liberation Sans", "baseline": "middle", "align": "center"},
        "encoding": {"x": {"datum": 1602763200000, "type": "temporal"}, "y": {"datum": 2064, "type": "quantitative"}, "text": {"field": "c"}}},
      {"transform": [{"aggregate": [{"op": "count", "as": "n"}], "groupby": ["c"]}], "mark": {"type": "rule", "color": "#000000", "strokeWidth": 1.2, "strokeDash": [7, 3, 1.5, 3]},
        "encoding": {"x": {"datum": 1599436800000, "type": "temporal"}, "y": {"datum": -77, "type": "quantitative"}, "y2": {"datum": 1787}}}
    ]}
  },
  {
    "transform": [{"filter": {"field": "c", "oneOf": ["Slovakia", "Slovenia", "Spain", "Sweden"]}}],
    "facet": {"column": {"field": "c", "type": "nominal", "title": null, "header": {"labels": false, "title": null}}},
    "spacing": 9,
    "spec": {"width": 243, "height": 148, "layer": [
      {"mark": {"type": "area", "color": "#8c8c8c"}, "encoding": {
        "x": {"field": "w", "type": "temporal", "scale": {"type": "utc", "domain": [1592451360000, 1613075040000], "nice": false},
          "axis": {"title": null, "format": "%d-%m-%y", "labelAngle": 270, "labelPadding": 3, "labelOverlap": false, "labelFlush": false, "tickCount": 40,
            "values": [1593086400000,1593993600000,1594900800000,1595808000000,1596715200000,1597622400000,1598529600000,1599436800000,1600344000000,1601251200000,1602158400000,1603065600000,1603972800000,1604880000000,1605787200000,1606694400000,1607601600000,1608508800000,1609416000000,1610323200000,1611230400000,1612137600000,1613044800000],
            "labelExpr": "(datum.value - 1593993600000) % 1814400000 === 0 ? datum.label : ''",
            "tickColor": {"condition": {"test": "(datum.value - 1593993600000) % 1814400000 === 0", "value": "#333333"}, "value": "rgba(0,0,0,0)"},
            "gridColor": {"condition": {"test": "(datum.value - 1593993600000) % 1814400000 === 0", "value": "#e3e3e3"}, "value": "#f1f1f1"}}},
        "y": {"field": "l", "type": "quantitative", "scale": {"domain": [-77, 2341], "nice": false, "zero": false},
          "axis": {"title": null, "format": "d", "labelPadding": 2, "labelOverlap": false, "tickCount": 40, "values": [0,250,500,750,1000,1250,1500,1750],
            "labelExpr": "datum.value % 500 === 0 && datum.value <= 1500 ? datum.label : ''",
            "tickColor": {"condition": {"test": "datum.value % 500 === 0 && datum.value <= 1500", "value": "#333333"}, "value": "rgba(0,0,0,0)"},
            "gridColor": {"condition": {"test": "datum.value % 500 === 0", "value": "#e3e3e3"}, "value": "#f1f1f1"}}},
        "y2": {"field": "h"}}},
      {"mark": {"type": "line", "color": "#b02a2a", "strokeWidth": 1.5}, "encoding": {"x": {"field": "w", "type": "temporal"}, "y": {"field": "m", "type": "quantitative"}}},
      {"transform": [{"aggregate": [{"op": "count", "as": "n"}], "groupby": ["c"]}], "mark": {"type": "rect", "fill": "#d9d9d9", "stroke": "#555555", "strokeWidth": 1},
        "encoding": {"x": {"datum": 1592451360000, "type": "temporal"}, "x2": {"datum": 1613075040000}, "y": {"datum": 1787, "type": "quantitative"}, "y2": {"datum": 2341}}},
      {"transform": [{"aggregate": [{"op": "count", "as": "n"}], "groupby": ["c"]}], "mark": {"type": "text", "fontSize": 18.5, "color": "#1a1a1a", "font": "Liberation Sans", "baseline": "middle", "align": "center"},
        "encoding": {"x": {"datum": 1602763200000, "type": "temporal"}, "y": {"datum": 2064, "type": "quantitative"}, "text": {"field": "c"}}},
      {"transform": [{"aggregate": [{"op": "count", "as": "n"}], "groupby": ["c"]}], "mark": {"type": "rule", "color": "#000000", "strokeWidth": 1.2, "strokeDash": [7, 3, 1.5, 3]},
        "encoding": {"x": {"datum": 1599436800000, "type": "temporal"}, "y": {"datum": -77, "type": "quantitative"}, "y2": {"datum": 1787}}}
    ]}
  }
  ]
}]
}
